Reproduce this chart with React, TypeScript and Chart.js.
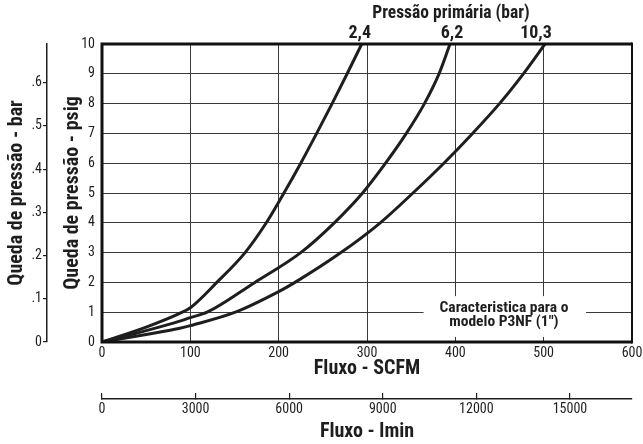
import React, { useEffect, useRef } from 'react';
import { Chart, registerables } from 'chart.js';

Chart.register(...registerables);

// ---- data (SCFM vs psig) ----
const flow24 = [0, 50, 88, 100, 130, 162, 186, 206, 225, 243, 260.5, 277.5, 294];
const drop24 = [0, 0.5, 0.96, 1.15, 2, 3, 4, 5, 6, 7, 8, 9, 10];
const flow62 = [0, 50, 88, 100, 119, 173, 225, 263, 295, 321, 344.5, 365, 381.5, 394];
const drop62 = [0, 0.38, 0.7, 0.82, 1, 2, 3, 4, 5, 6, 7, 8, 9, 10];
const flow103 = [0, 50, 88, 100, 151, 200, 218.5, 270.5, 315, 352, 387, 419.5, 450, 477, 501.5];
const drop103 = [0, 0.25, 0.46, 0.55, 1, 1.69, 2, 3, 4, 5, 6, 7, 8, 9, 10];
const seriesLabels = ['2,4', '6,2', '10,3'];
const scfmMax = 600;
const scfmStep = 100;
const psigMax = 10;
const psigStep = 1;
const barPerPsi = 0.0689476;
const barStep = 0.1;
const lminPerScfm = 28.3168;
const lminTicks = [0, 3000, 6000, 9000, 12000, 15000];
const topTitle = 'Pressão primária (bar)';
const noteLines = ['Caracteristica para o', 'modelo P3NF (1")'];

const COND = "'Roboto Condensed', 'Open Sans Condensed', 'Liberation Sans', sans-serif";
const INK = '#1e1e1e';
const GRID = '#3a3a3a';
const labelNudge = [-2, 2, -9];

const toPts = (xs: number[], ys: number[]) => xs.map((v, i) => ({ x: v, y: ys[i] }));

const extras = {
  id: 'extras',
  beforeDatasetsDraw(chart: any) {
    const { ctx, scales } = chart;
    const x = scales.x, y = scales.y;
    ctx.save();
    const l = x.getPixelForValue(364), r = x.getPixelForValue(548);
    const t = y.getPixelForValue(1.54), b = y.getPixelForValue(0.17);
    ctx.fillStyle = '#ffffff';
    ctx.fillRect(l, t, r - l, b - t);
    ctx.fillStyle = INK;
    ctx.font = `bold 15.5px ${COND}`;
    ctx.textAlign = 'center';
    ctx.textBaseline = 'middle';
    const cx = x.getPixelForValue(455), cy = y.getPixelForValue(0.9);
    ctx.fillText(noteLines[0], cx, cy - 7);
    ctx.fillText(noteLines[1], cx, cy + 7);
    ctx.restore();
  },
  afterDraw(chart: any) {
    const { ctx, chartArea: a } = chart;
    ctx.save();
    ctx.strokeStyle = '#111';
    ctx.lineWidth = 3;
    ctx.beginPath();
    ctx.moveTo(a.right, a.top);
    ctx.lineTo(a.left, a.top);
    ctx.lineTo(a.left, a.bottom);
    ctx.lineTo(a.right, a.bottom);
    ctx.stroke();
    ctx.lineWidth = 2;
    ctx.beginPath();
    ctx.moveTo(a.right, a.top - 1.5);
    ctx.lineTo(a.right, a.bottom + 1.5);
    ctx.stroke();

    ctx.fillStyle = INK;
    ctx.textAlign = 'center';
    ctx.textBaseline = 'middle';
    ctx.font = `bold 17.5px ${COND}`;
    const x = chart.scales.x;
    ctx.fillText(topTitle, x.getPixelForValue(395), a.top - 30);
    ctx.font = `bold 18px ${COND}`;
    const ends = [flow24, flow62, flow103].map((f) => f[f.length - 1]);
    ends.forEach((v, i) => {
      ctx.fillText(seriesLabels[i], x.getPixelForValue(v) + labelNudge[i], a.top - 11);
    });
    ctx.restore();
  },
};

export default function App() {
  const ref = useRef<HTMLCanvasElement | null>(null);
  useEffect(() => {
    if (!ref.current) return;
    const tickFont = { family: COND, size: 14 };
    const titleFont = { family: COND, size: 20, weight: 'bold' as const };
    const line = (xs: number[], ys: number[], label: string) => ({
      label,
      data: toPts(xs, ys),
      borderColor: INK,
      borderWidth: 3,
      pointRadius: 0,
      fill: false,
      cubicInterpolationMode: 'monotone' as const,
      xAxisID: 'x',
      yAxisID: 'y',
    });
    const chart = new Chart(ref.current, {
      type: 'line',
      data: {
        datasets: [
          line(flow24, drop24, seriesLabels[0]),
          line(flow62, drop62, seriesLabels[1]),
          line(flow103, drop103, seriesLabels[2]),
        ],
      },
      options: {
        animation: false,
        responsive: false,
        devicePixelRatio: 1,
        layout: { padding: { top: 44, right: 11, left: 0, bottom: 0 } },
        plugins: { legend: { display: false }, tooltip: { enabled: false } },
        scales: {
          x: {
            type: 'linear',
            position: 'bottom',
            weight: 0,
            min: 0,
            max: scfmMax,
            ticks: { stepSize: scfmStep, padding: 2.6, color: INK, font: tickFont, maxRotation: 0, autoSkip: false },
            grid: { color: GRID, lineWidth: 1, drawTicks: false },
            border: { display: false },
            title: { display: true, text: 'Fluxo - SCFM', color: INK, font: titleFont, padding: { top: 0, bottom: 18 } },
            afterFit(s: any) { s.height = 57; s.paddingLeft = 0; s.paddingRight = 0; },
          },
          x2: {
            type: 'linear',
            position: 'bottom',
            weight: 1,
            min: 0,
            max: scfmMax * lminPerScfm,
            ticks: { padding: 7.6, color: INK, font: tickFont, maxRotation: 0, autoSkip: false, callback: (v: any) => String(v) },
            afterBuildTicks(s: any) { s.ticks = lminTicks.map((v) => ({ value: v })); },
            grid: { drawOnChartArea: false, drawTicks: true, tickLength: -6, color: INK, lineWidth: 1.2 },
            border: { display: true, color: INK, width: 1.5 },
            title: { display: true, text: 'Fluxo - lmin', color: INK, font: titleFont, padding: { top: 0, bottom: 0 } },
            afterFit(s: any) { s.height = 45; s.paddingLeft = 0; s.paddingRight = 0; },
          },
          y: {
            type: 'linear',
            position: 'left',
            weight: 0,
            min: 0,
            max: psigMax,
            ticks: { stepSize: psigStep, padding: 7, color: INK, font: tickFont },
            grid: { color: GRID, lineWidth: 1, drawTicks: false },
            border: { display: false },
            title: { display: true, text: 'Queda de pressão - psig', color: INK, font: titleFont, padding: { top: 14, bottom: 0 } },
            afterFit(s: any) { s.width = 55; },
          },
          y2: {
            type: 'linear',
            position: 'left',
            weight: 1,
            min: 0,
            max: psigMax * barPerPsi,
            ticks: {
              stepSize: barStep,
              includeBounds: false,
              padding: 1,
              color: INK,
              font: tickFont,
              callback: (v: any) => (v === 0 ? '0' : '.' + Math.round(Number(v) * 10)),
            },
            grid: { drawOnChartArea: false, drawTicks: true, tickLength: 4, color: INK, lineWidth: 1.2 },
            border: { display: true, color: INK, width: 1.5 },
            title: { display: true, text: 'Queda de pressão - bar', color: INK, font: titleFont, padding: { top: 4.5, bottom: 0 } },
            afterFit(s: any) { s.width = 47; },
          },
        },
      } as any,
      plugins: [extras],
    });
    return () => chart.destroy();
  }, []);
  return (
    <div style={{ position: 'fixed', left: 0, top: 0, width: 643, height: 444, background: '#fff' }}>
      <canvas ref={ref} width={643} height={444} style={{ display: 'block' }} />
    </div>
  );
}
